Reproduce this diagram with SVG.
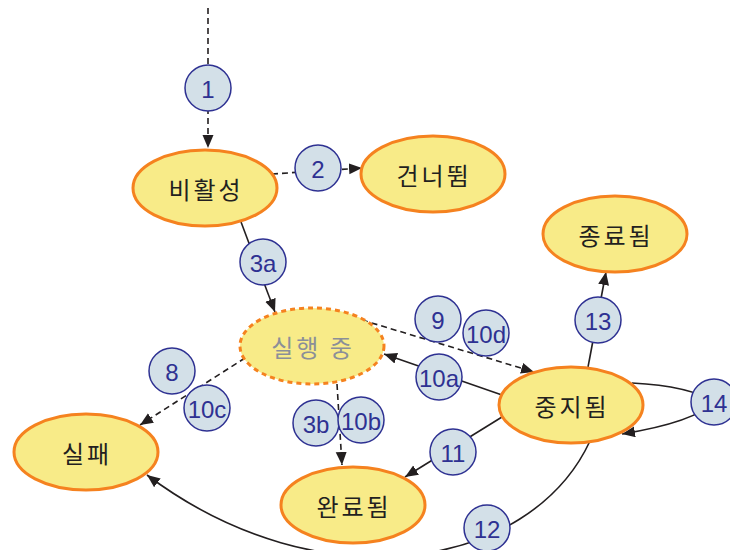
<svg xmlns="http://www.w3.org/2000/svg" width="730" height="550" viewBox="0 0 730 550">
<defs>
<style>
.st ellipse{fill:#f8eb88;stroke:#f5821f;stroke-width:3}
.st text{font-family:"Noto Sans CJK KR","Noto Sans",sans-serif;font-size:24px;letter-spacing:3px;fill:#231f20;text-anchor:middle;dominant-baseline:central}
.run ellipse{stroke-dasharray:5,4}
.run text{fill:#8b8f98}
.num circle{fill:#d3e0e8;stroke:#2e3192;stroke-width:1.5}
.num text{font-family:"Liberation Sans",Arial,sans-serif;font-size:24px;fill:#2e3192;text-anchor:middle;dominant-baseline:central}
.c{fill:none;stroke:#231f20;stroke-width:1.6;marker-end:url(#ah)}
.d{stroke-dasharray:6,4}
</style>
<marker id="ah" markerUnits="userSpaceOnUse" markerWidth="14" markerHeight="12" refX="13" refY="5.5" orient="auto">
<path d="M0,0 L13,5.5 L0,11 z" fill="#231f20"/>
</marker>
</defs>
<rect width="730" height="550" fill="#ffffff"/>
<g id="connectors">
<path class="c d" d="M208,8 L208,148"/>
<path class="c d" d="M272,174 L362,168"/>
<path class="c" d="M241,222 L275,312"/>
<path class="c d" d="M245,358 L140,425"/>
<path class="c d" d="M362,320 L534,372"/>
<path class="c" d="M502,395 L384,354"/>
<path class="c d" d="M337,384 L342,465"/>
<path class="c" d="M502,417 L405,477"/>
<path class="c" d="M590,441 C530,570 320,605 147,475"/>
<path class="c" d="M588,367 L606,272"/>
<path class="c" d="M632,383 Q690,386 714,402 Q695,422 622,434"/>
</g>
<g id="node-inactive" class="st"><ellipse cx="205" cy="188" rx="72" ry="38"/><text x="206" y="188">비활성</text></g>
<g id="node-skipped" class="st"><ellipse cx="433" cy="174" rx="72" ry="38"/><text x="434" y="174">건너뜀</text></g>
<g id="node-terminated" class="st"><ellipse cx="615" cy="234" rx="72" ry="38"/><text x="616" y="234">종료됨</text></g>
<g id="node-running" class="st run"><ellipse cx="312" cy="346" rx="72" ry="38"/><text x="313" y="346">실행 중</text></g>
<g id="node-stopped" class="st"><ellipse cx="571" cy="405" rx="72" ry="38"/><text x="572" y="405">중지됨</text></g>
<g id="node-failed" class="st"><ellipse cx="86" cy="452" rx="72" ry="38"/><text x="87" y="452">실패</text></g>
<g id="node-completed" class="st"><ellipse cx="353" cy="505" rx="72" ry="38"/><text x="354" y="505">완료됨</text></g>
<g id="label-1" class="num"><circle cx="208" cy="88" r="23"/><text x="208" y="89">1</text></g>
<g id="label-2" class="num"><circle cx="318" cy="168" r="23"/><text x="318" y="169">2</text></g>
<g id="label-3a" class="num"><circle cx="263" cy="262" r="23"/><text x="263" y="263">3a</text></g>
<g id="label-8" class="num"><circle cx="172" cy="371" r="23"/><text x="172" y="372">8</text></g>
<g id="label-10c" class="num"><circle cx="207" cy="408" r="23"/><text x="207" y="409">10c</text></g>
<g id="label-9" class="num"><circle cx="438" cy="319" r="23"/><text x="438" y="320">9</text></g>
<g id="label-10d" class="num"><circle cx="486" cy="333" r="23"/><text x="486" y="334">10d</text></g>
<g id="label-10a" class="num"><circle cx="439" cy="377" r="23"/><text x="439" y="378">10a</text></g>
<g id="label-3b" class="num"><circle cx="316" cy="423" r="23"/><text x="316" y="424">3b</text></g>
<g id="label-10b" class="num"><circle cx="361" cy="420" r="23"/><text x="361" y="421">10b</text></g>
<g id="label-11" class="num"><circle cx="453" cy="452" r="23"/><text x="453" y="453">11</text></g>
<g id="label-12" class="num"><circle cx="487" cy="528" r="23"/><text x="487" y="529">12</text></g>
<g id="label-13" class="num"><circle cx="598" cy="320" r="23"/><text x="598" y="321">13</text></g>
<g id="label-14" class="num"><circle cx="714" cy="402" r="23"/><text x="714" y="403">14</text></g>
</svg>
